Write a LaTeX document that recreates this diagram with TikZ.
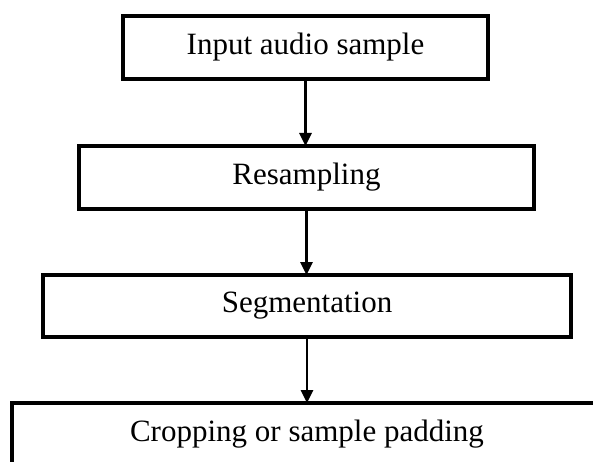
\documentclass[tikz,border=0pt]{standalone}
\usepackage{fontspec}
\setmainfont{Liberation Serif}
\usetikzlibrary{arrows.meta}

\begin{document}
\begin{tikzpicture}[x=1pt, y=-1pt,
  stagebox/.style={draw=black, line width=3.2pt, fill=white, rectangle,
    inner sep=0pt, outer sep=0pt, align=center,
    font=\fontsize{31}{31}\selectfont},
  flowarrow/.style={draw=black, line width=2.6pt,
    -{Triangle[width=12pt,length=13pt]}}]
  % page frame and clipping of the partly hidden last stage
  \useasboundingbox (0,0) rectangle (593,462);
  \fill[white] (0,0) rectangle (593,462);
  \clip (0,0) rectangle (593,462);

  % processing stages
  \node[stagebox, minimum width=365pt, minimum height=63pt] (input) at (305.5,47.5) {Input audio sample};
  \node[stagebox, minimum width=455pt, minimum height=63pt] (resamp) at (306.5,177.5) {Resampling};
  \node[stagebox, minimum width=528pt, minimum height=62pt] (segm) at (307,306) {Segmentation};
  \node[stagebox, minimum width=590pt, minimum height=63pt] (crop) at (307,434.5) {Cropping or sample padding};

  % connectors between stages
  \draw[flowarrow] (input.south) -- (input.south |- resamp.north);
  \draw[flowarrow] (resamp.south) -- (resamp.south |- segm.north);
  \draw[flowarrow] (segm.south) -- (segm.south |- crop.north);
\end{tikzpicture}
\end{document}
